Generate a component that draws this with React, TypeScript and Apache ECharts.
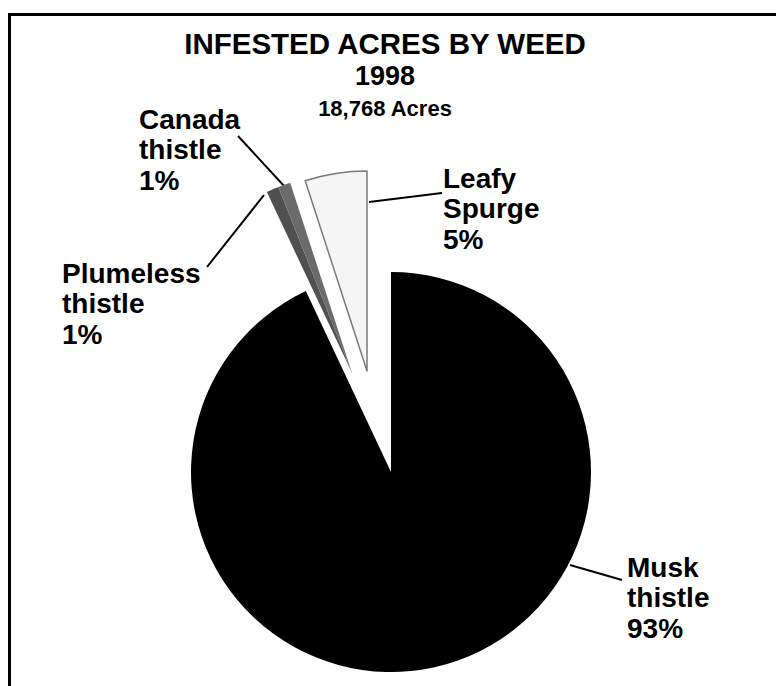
import React, { useEffect, useRef } from 'react';
import * as echarts from 'echarts';

// ---- data ----
const categories = ['Musk thistle', 'Plumeless thistle', 'Canada thistle', 'Leafy Spurge'];
const percents = [93, 1, 1, 5];
const titleLines = ['INFESTED ACRES BY WEED', '1998', '18,768 Acres'];

// ---- styles / layout ----
const FONT = '"Liberation Sans", Arial, Helvetica, sans-serif';
const sliceColors = ['#000000', '#505050', '#6b6b6b', '#f5f5f5'];
const sliceBorders = [null, null, null, '#7a7a7a'];
const R = 200;
// each group: pie drawn with its own centre (exploded pieces), showing given slice indices
const groups = [
  { center: [391, 472], show: [0] },
  { center: [352, 373], show: [1, 2] },
  { center: [367, 371], show: [3] },
];
const labelPos: Record<number, { x: number; y: number; line: number[][] }> = {
  0: { x: 627, y: 552, line: [[570, 565], [622, 580]] },
  1: { x: 62, y: 258, line: [[264, 195], [207, 267]] },
  2: { x: 139, y: 104, line: [[285, 187], [238, 136]] },
  3: { x: 443, y: 163, line: [[369, 202], [442, 193]] },
};

function labelText(i: number) {
  const parts = categories[i].split(' ');
  return parts.join('\n') + '\n' + percents[i] + '%';
}

export default function App() {
  const ref = useRef<HTMLDivElement>(null);
  useEffect(() => {
    if (!ref.current) return;
    const chart = echarts.init(ref.current, undefined, { renderer: 'svg' });
    const series = groups.map((g) => ({
      type: 'pie',
      center: g.center,
      radius: [0, R],
      startAngle: 90,
      clockwise: true,
      silent: true,
      avoidLabelOverlap: false,
      emphasis: { disabled: true },
      label: {
        show: true,
        position: 'outside',
        color: '#000',
        fontFamily: FONT,
        fontWeight: 'bold',
        fontSize: 28,
        lineHeight: 30.5,
        formatter: (p: any) => labelText(p.dataIndex),
      },
      labelLine: { show: true, smooth: false, lineStyle: { color: '#000', width: 2 } },
      labelLayout: (params: any) => {
        const p = labelPos[params.dataIndex];
        return {
          x: p.x,
          y: p.y,
          align: 'left',
          verticalAlign: 'top',
          labelLinePoints: [p.line[0], p.line[1], p.line[1]],
        };
      },
      data: categories.map((name, i) => {
        const vis = g.show.includes(i);
        return {
          name,
          value: percents[i],
          itemStyle: {
            color: vis ? sliceColors[i] : 'rgba(0,0,0,0)',
            borderColor: vis && sliceBorders[i] ? sliceBorders[i] : 'rgba(0,0,0,0)',
            borderWidth: vis && sliceBorders[i] ? 1.5 : 0,
          },
          label: { show: vis },
          labelLine: { show: vis },
        };
      }),
    }));

    chart.setOption({
      animation: false,
      backgroundColor: '#ffffff',
      graphic: [
        {
          type: 'rect',
          shape: { x: 9.5, y: 14.5, width: 800, height: 700 },
          style: { fill: 'none', stroke: '#000', lineWidth: 3 },
          silent: true,
        },
        {
          type: 'text', x: 385, y: 43.8,
          style: { text: titleLines[0], font: `bold 29.5px ${FONT}`, fill: '#000', align: 'center', verticalAlign: 'middle' },
        },
        {
          type: 'text', x: 385, y: 75.6,
          style: { text: titleLines[1], font: `bold 27px ${FONT}`, fill: '#000', align: 'center', verticalAlign: 'middle' },
        },
        {
          type: 'text', x: 385, y: 108.4,
          style: { text: titleLines[2], font: `bold 22px ${FONT}`, fill: '#000', align: 'center', verticalAlign: 'middle' },
        },
      ],
      series,
    });
    return () => chart.dispose();
  }, []);
  return <div ref={ref} style={{ position: 'absolute', left: 0, top: 0, width: 776, height: 686 }} />;
}
